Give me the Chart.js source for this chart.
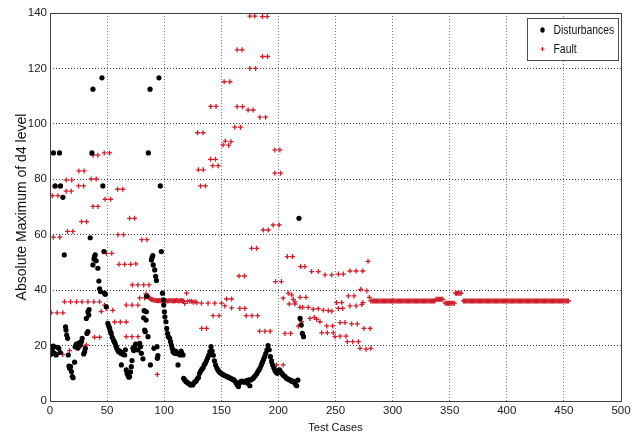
<!DOCTYPE html>
<html>
<head>
<meta charset="utf-8">
<script src="https://cdn.jsdelivr.net/npm/chart.js@4.4.1/dist/chart.umd.min.js"></script>
<style>
  html, body { margin: 0; padding: 0; background: #ffffff; }
  #c { display: block; }
</style>
</head>
<body>
<canvas id="c" width="643" height="436"></canvas>
<script>
// ---------- data ----------
const seriesNames = ['Disturbances', 'Fault'];
const xTickValues = [0, 50, 100, 150, 200, 250, 300, 350, 400, 450, 500];
const yTickValues = [0, 20, 40, 60, 80, 100, 120, 140];

const disturbX = [
  0.5, 1, 2, 3, 3, 4, 4.5, 5.3, 6.5, 7.7,
  8.3, 9, 9.2, 11.3, 12.5,
  13.6, 14, 14.6, 15.4, 16, 16.6, 17.2, 18, 18.8, 19.5,
  20.2, 21.5, 22, 23, 24.4, 25.5, 26.5, 27.5, 28.2, 29.5,
  30.3, 31, 31.8, 32.3, 33.2, 33.2, 34, 34.2, 35.2,
  36.7, 37.6, 37.6, 38.5, 39, 39.6, 40.5, 41.9, 42.8, 43.4,
  44.3, 45.5, 46.3, 47.2, 47.8, 48.4, 49.3, 50.7, 51.5, 52.2,
  53, 53.6, 54.5, 55.6, 56.3, 57, 57.8, 58.5, 59.3, 60,
  61, 62, 62.5, 63, 64, 65.4, 66, 66.8, 67.5, 68.2,
  69, 69.7, 70.5, 71.2, 71.8, 72.6, 73.3, 74.1, 75,
  77, 78.5, 79.2, 80, 81.4, 82, 82.5, 82.9, 83.4, 84.2,
  84.4, 84.6, 85.8, 86.1, 87.6, 87.9, 88.8, 89.4, 90, 90.4,
  91, 91.7, 92.5, 93.2, 93.7, 94, 94.5, 95.4, 96.6, 97.5,
  98.5, 99.3, 99.6, 100.2, 100.6, 101.5, 102.2, 103, 103.6, 104.8,
  105.5, 106.3, 107, 107.7, 108.5, 109.2, 110, 111, 112.1, 112.5,
  113.3, 114, 114.8, 115.5, 116.5,
  117, 118, 119, 120, 121, 122, 123, 124, 125, 126,
  127, 128, 129, 130, 131, 132, 133, 134, 135, 136,
  137, 138, 139, 140, 141, 142, 143, 144, 145, 146,
  147, 148, 149, 150, 151, 152, 153, 154, 155, 156,
  157, 158, 159, 160, 161, 162, 163, 164, 165, 166,
  167, 168, 169, 170, 171, 172, 173, 174, 175, 176,
  177, 178, 179, 180, 181, 182, 183, 184, 185, 186,
  187, 188, 189, 190, 191, 192, 193, 194, 195, 196,
  197, 198, 199, 200, 201, 202, 203, 204, 205, 206,
  207, 208, 209, 210, 211, 212, 213, 214, 215, 216,
  217, 218, 219, 220, 221, 222
];
const disturbY = [
  16.8, 19.6, 18.6, 19.8, 89.5, 17.2, 77.6, 16.6, 19.4, 19,
  89.5, 17.5, 77.6, 73.5, 52.7,
  26.8, 25.6, 23.8, 22.6, 16.6, 12.6, 11.8, 12.4, 10.6, 8.8,
  8.4, 14, 19.6, 20.5, 19.1, 21, 20.2, 21.4, 22.6, 17,
  17.8, 19, 29.8, 24.4, 25, 32.2, 31, 33, 58.9,
  89.5, 112.5, 49.1, 51.2, 52.1, 52.7, 50.6, 47.9, 43.3, 40.5,
  39.5, 116.6, 77.6, 53.9, 38.9, 38.5, 34, 28, 27, 26.2,
  25, 24.4, 23, 22, 21.4, 20.8, 19.8, 19, 18.4, 17.8,
  18, 17.2, 13, 17.5, 16.8, 16.6, 18.5, 11.2, 10, 9.4,
  8.6, 8.8, 10.5, 12.4, 14.6, 19, 18.2, 19.6, 20.5,
  18.4, 20.8, 19.6, 17.2, 15.2, 30, 32.6, 25.6, 25, 29.2,
  32.2, 37.8, 23.2, 89.5, 112.5, 13, 50.9, 51.8, 52.5, 49.1,
  19, 47.3, 45, 43.5, 19.6, 15.4, 16.4, 116.6, 77.6, 53.9,
  38.9, 36.5, 34.6, 32.2, 30.4, 28.6, 26.2, 24.4, 23.2, 22.6,
  21.4, 20.2, 19, 17.8, 17.5, 17.2, 18, 17.2, 13, 17.2,
  16.8, 16.6, 18, 17.2, 16.6,
  8.2, 7.6, 7, 6.8, 6.4, 6.2, 5.8, 6, 5.8, 6.5,
  7, 7.2, 8, 8.5, 10, 10.8, 11.5, 12, 13, 13.6,
  14.5, 15.5, 16.5, 17.8, 19.6, 18, 16.5, 14.5, 13, 12,
  11.2, 10.6, 10.2, 10, 9.6, 9.4, 9.2, 9, 8.8, 8.6,
  8.4, 8.2, 8, 7.8, 7.6, 7.2, 6.5, 5.8, 5.2, 6.5,
  7, 7.2, 7, 6.8, 7, 7.4, 6.4, 7.6, 5.5, 7.6,
  8, 8.2, 8.8, 9.2, 9.8, 10.6, 11.2, 12, 13, 14,
  15, 16, 17.2, 18.5, 20, 18.5, 16, 14.5, 13, 12,
  11, 10.4, 10, 11, 11.2, 10.5, 10, 9.4, 9, 8.8,
  8.2, 8, 7.8, 7.6, 7.4, 7, 7.2, 6.8, 6, 5.5,
  7.5, 65.9, 29.8, 27.4, 24.4, 23.2
];

const faultX = [
  2, 6.9, 3.9, 8.3, 14.2, 18.6, 14.2, 19, 25.3, 29.8,
  25, 29.4, 36.1, 40.5, 37.6, 41.9, 37.6, 41.9, 47.5, 52.2,
  48.2, 53, 59.2, 63.7, 69.7, 74.1, 3, 8.6, 15.3, 20,
  27.6, 32, 1, 6.2, 11.2, 12.7, 18, 23.2, 28, 33.2,
  38.4, 43.4, 44.9, 47.8, 49.3, 55, 6.8, 11.2, 17.1, 23,
  26.8, 31.8, 39, 43.4,
  49.3, 54, 56.6, 61.6, 66.7, 59.5, 64.4, 60.4, 65.4, 70.6,
  75.2, 66.8, 71.8, 77, 66.8, 71.8, 77, 80.3, 84.8, 72.1,
  77, 82, 86.7, 78.5, 82.9, 94,
  84, 85, 86, 87, 88, 89, 90, 91, 92, 93,
  94, 95, 96, 97, 98, 99, 100, 101, 102, 103,
  104, 105, 106, 107, 108, 109, 110, 111, 112, 113,
  114, 115, 116, 117,
  118, 119.5, 120.5, 122.4, 124, 125.3, 127, 128.5,
  129.2, 134, 129.9, 134.2, 131.8, 136.1, 140.8, 145.4, 140.5, 144.9,
  142.5, 147.2, 152.5, 157.5, 151.5, 153.5, 156.5, 158.5, 163.9, 168.2,
  163.9, 168.6, 161.8, 166.8, 175, 179.4, 186.1, 190.2, 186.1, 190.5,
  175, 180, 173.5, 177.9, 183.8, 188.8, 196.9, 201.3, 196.9, 201.9,
  132.6, 138.4, 144.3, 150.2, 132.8, 137, 142.8, 148, 154.6, 159,
  153.1, 159, 166.2, 170.6, 165.5, 170.2, 171.8, 176.8, 181.8, 176.5,
  180.9, 183.5, 188.2, 192.8, 186.7, 191.1, 195.4, 200.7, 197.5, 202.6,
  194, 198.4, 204.2, 207.8, 212.3, 205.7, 210.7, 204.2, 208.6, 211.6,
  213, 214.5, 218.9, 224.1, 209.5, 214.5, 218.9, 221.2, 226.1, 230.5,
  234.9, 239.3, 243.7, 246.7, 219.5, 223.2, 217.4, 220.3,
  229.1, 234.9, 240.8, 246.7, 252.5, 256.8, 262.7, 268, 273.9, 278.5,
  272.1, 277.4, 251, 255.4, 252.5, 256.3, 261.2, 266.2, 262.7, 268,
  273.9, 227.6, 231.4, 233.5, 236.4, 242.3, 247.5, 254, 258.3, 264.2,
  269.1, 274.9, 280.3, 237.9, 242.8, 248.1, 249.6, 254, 259.2, 260.4,
  265.1, 270, 271.5, 276.8, 280.9, 273, 279.6,
  281, 282, 283, 284, 285, 286, 287, 288, 289, 290,
  291, 292, 293, 294, 295, 296, 297, 298, 299, 300,
  301, 302, 303, 304, 305, 306, 307, 308, 309, 310,
  311, 312, 313, 314, 315, 316, 317, 318, 319, 320,
  321, 322, 323, 324, 325, 326, 327, 328, 329, 330,
  331, 332, 333, 334, 335, 336, 337,
  338, 339, 340, 341, 342, 343, 344,
  346, 347, 348, 349, 350, 351, 352, 353, 354,
  355, 356, 357, 358, 359, 360,
  362, 363, 364, 365, 366, 367, 368, 369, 370, 371,
  372, 373, 374, 375, 376, 377, 378, 379, 380, 381,
  382, 383, 384, 385, 386, 387, 388, 389, 390, 391,
  392, 393, 394, 395, 396, 397, 398, 399, 400, 401,
  402, 403, 404, 405, 406, 407, 408, 409, 410, 411,
  412, 413, 414, 415, 416, 417, 418, 419, 420, 421,
  422, 423, 424, 425, 426, 427, 428, 429, 430, 431,
  432, 433, 434, 435, 436, 437, 438, 439, 440, 441,
  442, 443, 444, 445, 446, 447, 448, 449, 450, 451,
  452, 453, 454
];
const faultY = [
  74.1, 74.1, 77.4, 77.4, 75.7, 75.7, 79.7, 79.7, 83, 83,
  77.6, 77.6, 80.1, 80.1, 88.7, 88.7, 70.2, 70.2, 89.5, 89.5,
  72.8, 72.8, 76.4, 76.4, 65.9, 65.9, 59.1, 59.1, 61.2, 61.2,
  64.7, 64.7, 31.8, 31.8, 31.8, 35.8, 35.8, 35.8, 35.8, 35.8,
  35.8, 35.8, 32.3, 34.6, 33.4, 32.7, 16.8, 16.8, 18.2, 19.1,
  19.8, 20.2, 23, 23,
  53.3, 53.3, 28.5, 28.5, 28.5, 60, 60, 49.3, 49.3, 49.3,
  49.5, 34.6, 34.6, 34.6, 23.2, 23.2, 23.2, 58.2, 58.2, 41.9,
  41.9, 41.9, 41.9, 37.2, 37.2, 9.6,
  38.6, 38.2, 37.8, 37.2, 36.8, 36.6, 36.5, 36.4, 36.3, 36.3,
  36.2, 36.2, 36.3, 36.2, 36.1, 36.2, 36.3, 36.2, 36.2, 36.1,
  36.2, 36.3, 36.2, 36.2, 36.1, 36.2, 36.2, 36.3, 36.2, 36.1,
  36.2, 36.3, 36.2, 36,
  35.2, 38.9, 36, 36, 36, 35.6, 35.8, 35.5,
  96.8, 96.8, 83.4, 83.4, 77.6, 77.6, 106.3, 106.3, 87.2, 87.2,
  84.9, 84.9, 115.2, 115.2, 92.4, 93.8, 92.3, 93.6, 126.7, 126.7,
  106.2, 106.2, 98.8, 98.8, 138.9, 138.9, 138.7, 138.7, 124.3, 124.3,
  120, 120, 105, 105, 102.4, 102.4, 90.6, 90.6, 82.2, 82.2,
  35.3, 35.3, 35.3, 35.3, 26.2, 26.2, 30.8, 30.8, 36.8, 36.8,
  34.3, 33.6, 33.4, 33.4, 45.1, 45.1, 30.8, 30.8, 30.8, 55.1,
  55.1, 25.2, 25.2, 25.2, 61.7, 61.7, 63.5, 63.5, 43.1, 43.1,
  13.6, 13, 13, 52.1, 52.1, 24.4, 24.4, 37.1, 38.9, 38.3,
  36.7, 35.8, 37.4, 37.4, 35, 35, 33.8, 33.8, 33.8, 33.1,
  33.3, 32.8, 32.6, 32.4, 48.5, 48.5, 27, 28.6,
  46.7, 46.7, 45.5, 45.5, 45.8, 45.8, 46.9, 46.9, 46.9, 50.4,
  40.3, 39.8, 35.5, 35.5, 33.4, 33.4, 37.9, 37.9, 34.3, 34.3,
  35.5, 29.8, 30.2, 29.5, 28.6, 27.1, 27.1, 28.3, 28.3, 27.8,
  27.8, 26.2, 26.2, 24.6, 24.6, 24.6, 23.2, 23.4, 23.4, 21.4,
  21.4, 21.4, 19, 18.7, 19, 34.8, 37.4,
  36.1, 36.1, 36.1, 36.1, 36.1, 36.1, 36.1, 36.1, 36.1, 36.1,
  36.1, 36.1, 36.1, 36.1, 36.1, 36.1, 36.1, 36.1, 36.1, 36.1,
  36.1, 36.1, 36.1, 36.1, 36.1, 36.1, 36.1, 36.1, 36.1, 36.1,
  36.1, 36.1, 36.1, 36.1, 36.1, 36.1, 36.1, 36.1, 36.1, 36.1,
  36.1, 36.1, 36.1, 36.1, 36.1, 36.1, 36.1, 36.1, 36.1, 36.1,
  36.1, 36.1, 36.1, 36.1, 36.1, 36.1, 36.1,
  36.7, 36.7, 36.7, 36.7, 36.7, 36.7, 36.7,
  35.3, 35.3, 35.3, 35.3, 35.3, 35.3, 35.3, 35.3, 35.3,
  38.9, 38.9, 38.9, 38.9, 38.9, 38.9,
  36.1, 36.1, 36.1, 36.1, 36.1, 36.1, 36.1, 36.1, 36.1, 36.1,
  36.1, 36.1, 36.1, 36.1, 36.1, 36.1, 36.1, 36.1, 36.1, 36.1,
  36.1, 36.1, 36.1, 36.1, 36.1, 36.1, 36.1, 36.1, 36.1, 36.1,
  36.1, 36.1, 36.1, 36.1, 36.1, 36.1, 36.1, 36.1, 36.1, 36.1,
  36.1, 36.1, 36.1, 36.1, 36.1, 36.1, 36.1, 36.1, 36.1, 36.1,
  36.1, 36.1, 36.1, 36.1, 36.1, 36.1, 36.1, 36.1, 36.1, 36.1,
  36.1, 36.1, 36.1, 36.1, 36.1, 36.1, 36.1, 36.1, 36.1, 36.1,
  36.1, 36.1, 36.1, 36.1, 36.1, 36.1, 36.1, 36.1, 36.1, 36.1,
  36.1, 36.1, 36.1, 36.1, 36.1, 36.1, 36.1, 36.1, 36.1, 36.1,
  36.1, 36.1, 36.1
];

// ---------- styling ----------
const FONT = "'Liberation Sans', Arial, sans-serif";
const BLACK = '#000000';
const RED = '#d0202e';

function toPoints(xs, ys) {
  const pts = [];
  for (let i = 0; i < xs.length && i < ys.length; i++) pts.push({ x: xs[i], y: ys[i] });
  return pts;
}

// frame (MATLAB "box on")
const framePlugin = {
  id: 'frame',
  afterDraw(chart) {
    const { ctx, chartArea: a } = chart;
    ctx.save();
    ctx.strokeStyle = '#404040';
    ctx.lineWidth = 1;
    ctx.setLineDash([]);
    ctx.strokeRect(Math.round(a.left) + 0.5, Math.round(a.top) + 0.5,
                   Math.round(a.right - a.left), Math.round(a.bottom - a.top));
    ctx.restore();
  }
};

// boxed legend inside the plot, top right
const boxLegendPlugin = {
  id: 'boxLegend',
  afterDraw(chart) {
    const { ctx, chartArea: a } = chart;
    const right = a.right - 3;
    const left = right - 91;
    const top = a.top + 5;
    const h = 42;
    ctx.save();
    ctx.fillStyle = '#ffffff';
    ctx.fillRect(left, top, right - left, h);
    ctx.strokeStyle = '#505050';
    ctx.lineWidth = 1;
    ctx.strokeRect(Math.round(left) + 0.5, Math.round(top) + 0.5, Math.round(right - left), h);
    const rows = [top + 12, top + 31];
    chart.data.datasets.forEach((ds, i) => {
      const cy = rows[i];
      const cx = left + 15.5;
      if (ds.pointStyle === 'circle') {
        ctx.fillStyle = ds.backgroundColor;
        ctx.beginPath();
        ctx.ellipse(cx, cy, 2.2, 2.7, 0, 0, Math.PI * 2);
        ctx.fill();
      } else {
        ctx.strokeStyle = ds.borderColor;
        ctx.lineWidth = 1.1;
        ctx.beginPath();
        ctx.moveTo(cx - 2, cy); ctx.lineTo(cx + 2, cy);
        ctx.moveTo(cx, cy - 2); ctx.lineTo(cx, cy + 2);
        ctx.stroke();
      }
      // condensed text, like the squeezed original
      ctx.save();
      ctx.translate(left + 26.5, cy);
      ctx.scale(0.8, 1);
      ctx.font = '13px ' + FONT;
      ctx.textBaseline = 'middle';
      ctx.textAlign = 'left';
      ctx.fillStyle = '#111111';
      ctx.fillText(ds.label, 0, 0);
      ctx.restore();
    });
    ctx.restore();
  }
};

new Chart(document.getElementById('c').getContext('2d'), {
  type: 'scatter',
  data: {
    datasets: [
      {
        label: seriesNames[0],
        data: toPoints(disturbX, disturbY),
        pointStyle: 'circle',
        pointRadius: 2.6,
        backgroundColor: BLACK,
        borderColor: BLACK,
        borderWidth: 0
      },
      {
        label: seriesNames[1],
        data: toPoints(faultX, faultY),
        pointStyle: 'cross',
        pointRadius: 2.5,
        backgroundColor: RED,
        borderColor: RED,
        borderWidth: 1.3
      }
    ]
  },
  options: {
    responsive: false,
    animation: false,
    devicePixelRatio: 1,
    layout: { padding: { top: 13, right: 22, left: 0, bottom: 0 } },
    plugins: {
      legend: { display: false },
      tooltip: { enabled: false }
    },
    scales: {
      x: {
        type: 'linear',
        min: 0,
        max: 500,
        afterFit(scale) { scale.height = 35; },
        afterBuildTicks(scale) { scale.ticks = xTickValues.map(v => ({ value: v })); },
        ticks: {
          font: { family: FONT, size: 11.5 },
          color: '#1a1a1a',
          padding: 3,
          maxRotation: 0,
          autoSkip: false
        },
        grid: {
          color: 'rgba(0,0,0,0.5)',
          lineWidth: 1,
          drawTicks: false
        },
        border: { display: false, dash: [1, 2] },
        title: {
          display: true,
          text: 'Test Cases',
          font: { family: FONT, size: 11 },
          color: '#111111',
          padding: { top: 0, bottom: 1 }
        }
      },
      y: {
        type: 'linear',
        min: 0,
        max: 140,
        afterFit(scale) { scale.width = 50; },
        afterBuildTicks(scale) { scale.ticks = yTickValues.map(v => ({ value: v })); },
        ticks: {
          font: { family: FONT, size: 11.5 },
          color: '#1a1a1a',
          padding: 3,
          autoSkip: false
        },
        grid: {
          color: 'rgba(0,0,0,0.75)',
          lineWidth: 1,
          drawTicks: false
        },
        border: { display: false, dash: [1, 2] },
        title: {
          display: true,
          text: 'Absolute Maximum of d4 level',
          font: { family: FONT, size: 14 },
          color: '#111111',
          padding: { top: 14, bottom: 0 }
        }
      }
    }
  },
  plugins: [framePlugin, boxLegendPlugin]
});
</script>
</body>
</html>
